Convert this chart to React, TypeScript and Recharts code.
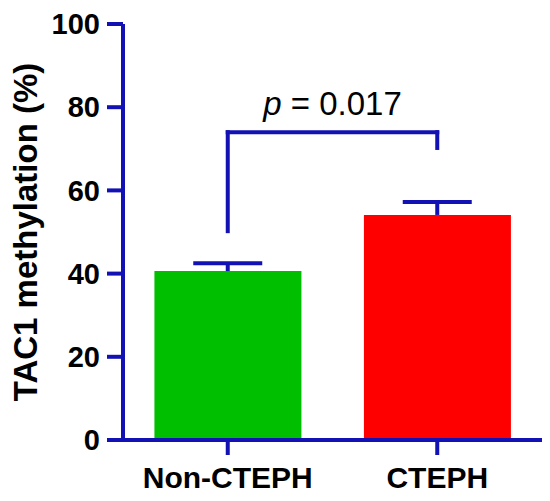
import React from 'react';
import { ComposedChart, Bar, XAxis, YAxis, Cell, ReferenceLine } from 'recharts';

const categories = ['Non-CTEPH', 'CTEPH'];
const means = [40.6, 54.1];
const sems = [1.9, 3.1];
const barColors = ['#00BE00', '#FF0000'];
const yTicks = [0, 20, 40, 60, 80, 100];
const bracketLow = [50.2, 70.2];
const bracketTop = 74;
const pLabel = '0.017';

const BLUE = '#1212B4';
const FONT = '"Liberation Sans", Arial, Helvetica, sans-serif';

const data = categories.map((c, i) => ({ name: c, mean: means[i] }));

const ErrShape = (props: any) => {
  const { x1, y1, x2, y2 } = props;
  const top = Math.min(y1, y2);
  return (
    <g>
      <line x1={x1} y1={y1} x2={x2} y2={y2} stroke={BLUE} strokeWidth={4} />
      <line x1={x1 - 34.5} y1={top} x2={x1 + 34.5} y2={top} stroke={BLUE} strokeWidth={4} />
    </g>
  );
};

const BracketTopShape = (props: any) => {
  const { x1, y1, x2, y2 } = props;
  const mx = (x1 + x2) / 2;
  return (
    <g>
      <line x1={x1} y1={y1} x2={x2} y2={y2} stroke={BLUE} strokeWidth={4} strokeLinecap="square" />
      <text x={mx} y={y1 - 17} textAnchor="middle" fontFamily={FONT} fontSize={33} fill="#000">
        <tspan fontStyle="italic">p</tspan>
        <tspan> = {pLabel}</tspan>
      </text>
    </g>
  );
};

const YLabel = (props: any) => {
  const vb = props.viewBox || { x: 0, y: 24, width: 123, height: 416 };
  const cx = vb.x + 37;
  const cy = vb.y + vb.height / 2;
  return (
    <text
      x={cx}
      y={cy}
      transform={`rotate(-90, ${cx}, ${cy})`}
      textAnchor="middle"
      fontFamily={FONT}
      fontWeight="bold"
      fontSize={33}
      fill="#000"
    >
      TAC1 methylation (%)
    </text>
  );
};

export default function App() {
  return (
    <div style={{ position: 'absolute', left: 0, top: 0, width: 550, height: 501, background: '#fff' }}>
      <ComposedChart
        width={550}
        height={501}
        data={data}
        margin={{ top: 24, right: 8, bottom: 0, left: 0 }}
        barCategoryGap="15%"
      >
        <XAxis
          dataKey="name"
          height={61}
          axisLine={{ stroke: BLUE, strokeWidth: 4 }}
          tickLine={{ stroke: BLUE, strokeWidth: 4 }}
          tickSize={15}
          tickMargin={12}
          tick={{ fill: '#000', fontSize: 30, fontWeight: 'bold', fontFamily: FONT }}
          interval={0}
        />
        <YAxis
          width={123}
          domain={[0, 100]}
          ticks={yTicks}
          axisLine={{ stroke: BLUE, strokeWidth: 4 }}
          tickLine={{ stroke: BLUE, strokeWidth: 4 }}
          tickSize={16}
          tickMargin={7}
          tick={{ fill: '#000', fontSize: 29, fontWeight: 'bold', fontFamily: FONT }}
          label={<YLabel />}
        />
        <Bar dataKey="mean" isAnimationActive={false}>
          {data.map((d, i) => (
            <Cell key={d.name} fill={barColors[i]} />
          ))}
        </Bar>
        {categories.map((c, i) => (
          <ReferenceLine
            key={'err' + c}
            segment={[
              { x: c, y: means[i] },
              { x: c, y: means[i] + sems[i] },
            ]}
            shape={<ErrShape />}
          />
        ))}
        {categories.map((c, i) => (
          <ReferenceLine
            key={'br' + c}
            segment={[
              { x: c, y: bracketLow[i] },
              { x: c, y: bracketTop },
            ]}
            stroke={BLUE}
            strokeWidth={4}
            strokeLinecap="square"
          />
        ))}
        <ReferenceLine
          segment={[
            { x: categories[0], y: bracketTop },
            { x: categories[1], y: bracketTop },
          ]}
          shape={<BracketTopShape />}
        />
      </ComposedChart>
    </div>
  );
}
